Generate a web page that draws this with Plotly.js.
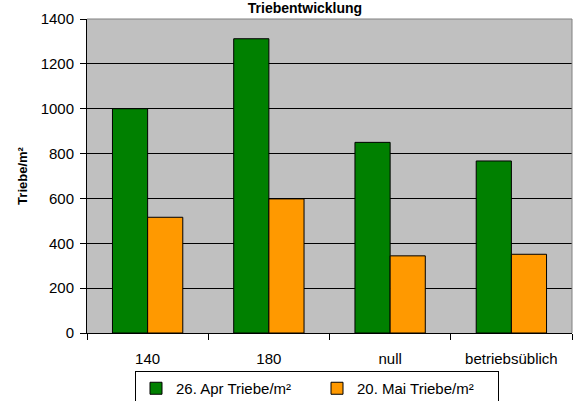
<!DOCTYPE html>
<html>
<head>
<meta charset="utf-8">
<script src="https://cdn.plot.ly/plotly-3.0.1.min.js"></script>
<style>html,body{margin:0;padding:0;background:#fff;}#chart{width:579px;height:401px;}</style>
</head>
<body>
<div id="chart"></div>
<script>
var categories = ["140", "180", "null", "betriebsüblich"];
var seriesNames = ["26. Apr Triebe/m²", "20. Mai Triebe/m²"];
var april = [1000, 1312, 850, 767];
var may = [516, 598, 344, 351];
var yTicks = [0, 200, 400, 600, 800, 1000, 1200, 1400];

var fam = "Liberation Sans, Arial, sans-serif";
var font = {family: fam, size: 15, color: "#000"};

var traces = [
  {type: "bar", name: seriesNames[0], x: categories, y: april,
   marker: {color: "#008000", line: {color: "#000", width: 1}}},
  {type: "bar", name: seriesNames[1], x: categories, y: may,
   marker: {color: "#ff9900", line: {color: "#000", width: 1}}}
];

var layout = {
  width: 579, height: 401,
  margin: {l: 87, r: 7, t: 18.5, b: 68, pad: 0, autoexpand: false},
  paper_bgcolor: "#fff",
  plot_bgcolor: "#c0c0c0",
  font: font,
  barmode: "group",
  bargap: 0.42,
  bargroupgap: 0,
  showlegend: true,
  title: {text: "Triebentwicklung", font: {family: fam, size: 14, color: "#000", weight: "bold"},
          x: 305 / 579, xanchor: "center", xref: "container", y: 1 - 12.5 / 401, yanchor: "bottom", yref: "container"},
  xaxis: {
    type: "category",
    tickson: "boundaries",
    ticks: "outside", ticklen: 6, tickcolor: "#000", tickwidth: 1,
    showline: true, linecolor: "#000", linewidth: 1,
    showgrid: false, zeroline: false,
    ticklabelstandoff: 12,
    tickfont: font,
    automargin: false
  },
  yaxis: {
    range: [0, 1400],
    tickvals: yTicks,
    ticktext: yTicks.map(String),
    ticks: "outside", ticklen: 6, tickcolor: "#000", tickwidth: 1,
    showline: true, linecolor: "#000", linewidth: 1,
    showgrid: true, gridcolor: "#000", gridwidth: 1,
    zeroline: false,
    tickfont: font,
    ticklabelstandoff: 3,
    automargin: false,
    title: {text: "Triebe/m²", font: {family: fam, size: 13, color: "#000", weight: "bold"}, standoff: 10}
  },
  legend: {
    orientation: "h",
    xref: "container", yref: "container",
    x: 135 / 579, xanchor: "left",
    y: 1 - 371 / 401, yanchor: "top",
    bgcolor: "#fff", bordercolor: "#000", borderwidth: 1,
    font: font,
    itemwidth: 30,
    entrywidth: 136,
    traceorder: "normal"
  },
  shapes: [
    {type: "line", xref: "paper", yref: "paper", x0: 0, x1: 1, y0: 1, y1: 1, line: {color: "#808080", width: 1}},
    {type: "line", xref: "paper", yref: "paper", x0: 1, x1: 1, y0: 0, y1: 1, line: {color: "#808080", width: 1}}
  ]
};

Plotly.newPlot("chart", traces, layout, {displayModeBar: false, staticPlot: true});
</script>
</body>
</html>
